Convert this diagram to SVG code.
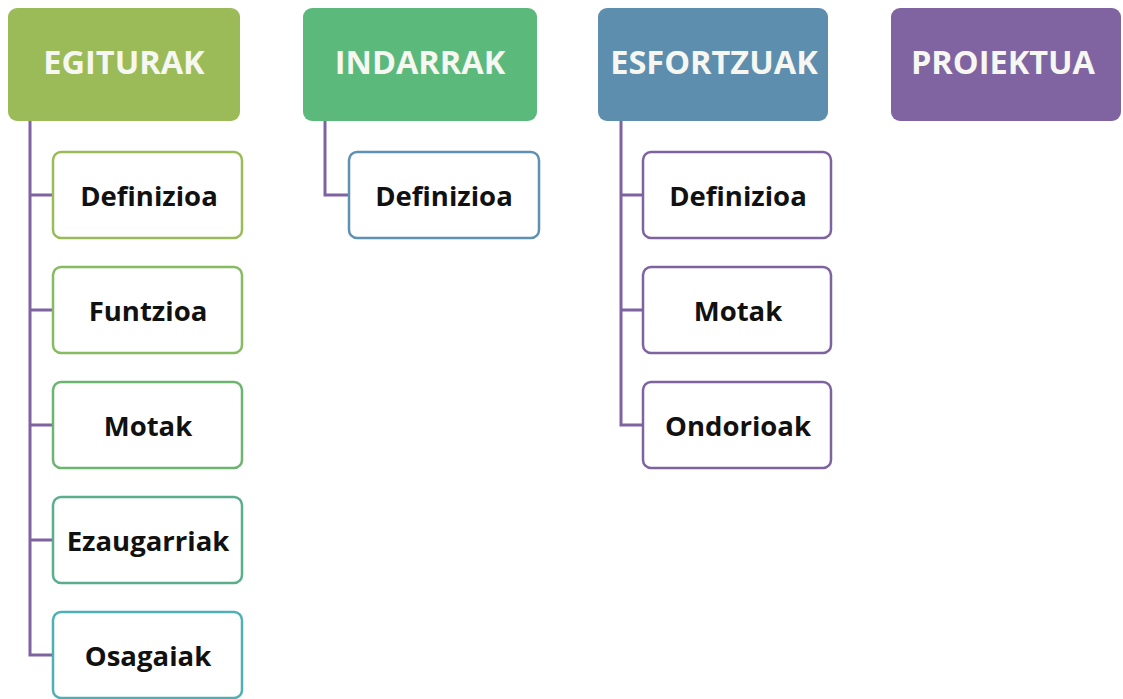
<svg xmlns="http://www.w3.org/2000/svg" width="1123" height="699" viewBox="0 0 1123 699">
<style>
.hdr{font-family:"Open Sans","Liberation Sans",sans-serif;font-weight:bold;font-size:32.5px;fill:#f7f7f2;text-anchor:middle}
.lbl{font-family:"Open Sans","Liberation Sans",sans-serif;font-weight:bold;font-size:27.5px;fill:#111;text-anchor:middle}
.child{fill:#fff;stroke-width:2.5}
.conn{fill:none;stroke:#7f63a1;stroke-width:3}
</style>
<rect width="1123" height="699" fill="#fff"/>
<g id="connectors">
<path class="conn" d="M30 121 V655 H53 M30 195 H53 M30 310 H53 M30 425 H53 M30 540 H53"/>
<path class="conn" d="M325 121 V195 H349"/>
<path class="conn" d="M621 121 V425 H643 M621 195 H643 M621 310 H643"/>
</g>
<g id="egiturak"><rect x="8" y="8" width="232" height="113" rx="9" fill="#9bbb59"/><text class="hdr" x="124" y="74">EGITURAK</text></g>
<g id="indarrak"><rect x="303" y="8" width="234" height="113" rx="9" fill="#5cb97c"/><text class="hdr" x="420" y="74">INDARRAK</text></g>
<g id="esfortzuak"><rect x="598" y="8" width="230" height="113" rx="9" fill="#5d8eae"/><text class="hdr" x="714" y="74">ESFORTZUAK</text></g>
<g id="proiektua"><rect x="891" y="8" width="230" height="113" rx="9" fill="#8064a2"/><text class="hdr" x="1003" y="74">PROIEKTUA</text></g>
<g id="e-definizioa"><rect class="child" x="53" y="152" width="189" height="86" rx="8" stroke="#9bbb59"/><text class="lbl" x="149" y="206">Definizioa</text></g>
<g id="e-funtzioa"><rect class="child" x="53" y="267" width="189" height="86" rx="8" stroke="#86bb62"/><text class="lbl" x="148" y="321">Funtzioa</text></g>
<g id="e-motak"><rect class="child" x="53" y="382" width="189" height="86" rx="8" stroke="#6cb56f"/><text class="lbl" x="148" y="436">Motak</text></g>
<g id="e-ezaugarriak"><rect class="child" x="53" y="497" width="189" height="86" rx="8" stroke="#5aae8c"/><text class="lbl" x="148" y="551">Ezaugarriak</text></g>
<g id="e-osagaiak"><rect class="child" x="53" y="612" width="189" height="86" rx="8" stroke="#4fb0b4"/><text class="lbl" x="148" y="666">Osagaiak</text></g>
<g id="i-definizioa"><rect class="child" x="349" y="152" width="190" height="86" rx="8" stroke="#5e91b2"/><text class="lbl" x="444" y="206">Definizioa</text></g>
<g id="s-definizioa"><rect class="child" x="643" y="152" width="188" height="86" rx="8" stroke="#7f63a1"/><text class="lbl" x="738" y="206">Definizioa</text></g>
<g id="s-motak"><rect class="child" x="643" y="267" width="188" height="86" rx="8" stroke="#7f63a1"/><text class="lbl" x="738" y="321">Motak</text></g>
<g id="s-ondorioak"><rect class="child" x="643" y="382" width="188" height="86" rx="8" stroke="#7f63a1"/><text class="lbl" x="738" y="436">Ondorioak</text></g>
</svg>
